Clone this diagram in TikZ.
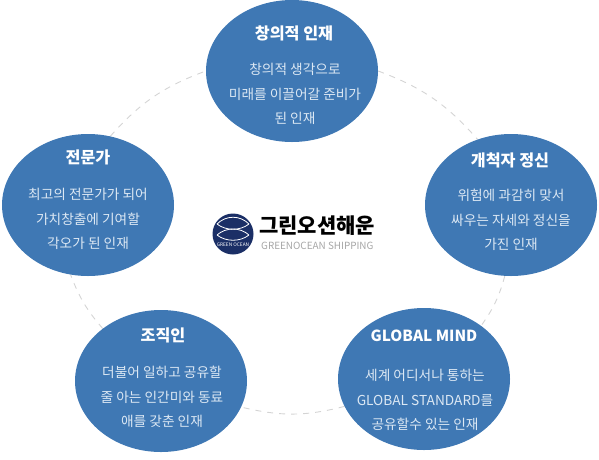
\documentclass[tikz,border=0pt]{standalone}
\usepackage{fontspec}
\setmainfont{Noto Sans CJK KR}
\usetikzlibrary{backgrounds, shapes.geometric}
\definecolor{oceanBlue}{HTML}{3F78B4}
\definecolor{oceanNavy}{HTML}{1B2F66}
\definecolor{ringGray}{HTML}{D4D4D4}
\definecolor{subText}{HTML}{DCE8F4}

\begin{document}
\begin{tikzpicture}[
    x=1pt, y=-1pt,
    talent/.style={ellipse, fill=oceanBlue, minimum width=172pt, minimum height=142pt,
                 inner sep=0pt},
    ring/.style={draw=ringGray, dash pattern=on 6pt off 6pt, line width=0.9pt},
    heading/.style={text=white, font=\fontsize{16.2}{18}\selectfont\bfseries, inner sep=0pt},
    bodytext/.style={text=subText, font=\fontsize{13.7}{24.6}\selectfont, align=center, inner sep=0pt},
    fish/.style={white, line width=0.8pt},
  ]
    \useasboundingbox (0,0) rectangle (599,459);

    \node[talent] (top) at (292,71) {};
    \node[talent] (right) at (511,205) {};
    \node[talent] (mind) at (424,379) {};
    \node[talent] (org) at (161,381) {};
    \node[talent] (left) at (88,205) {};

    \node[heading] (topname) at (294,33) {창의적 인재};
    \node[heading] (rightname) at (510,160) {개척자 정신};
    \node[heading, font=\fontsize{15.3}{18}\selectfont\bfseries] (mindname) at (424,336) {GLOBAL MIND};
    \node[heading] (orgname) at (163,335) {조직인};
    \node[heading] (leftname) at (88,157) {전문가};

    \node[bodytext] (topbody) at (295,94) {창의적 생각으로\\미래를 이끌어갈 준비가\\된 인재};
    \node[bodytext] (rightbody) at (511,220) {위험에 과감히 맞서\\싸우는 자세와 정신을\\가진 인재};
    \node[bodytext] (mindbody) at (425,400) {세계 어디서나 통하는\\GLOBAL STANDARD를\\공유할수 있는 인재};
    \node[bodytext] (orgbody) at (162,397) {더불어 일하고 공유할\\줄 아는 인간미와 동료\\애를 갖춘 인재};
    \node[bodytext] (leftbody) at (88,219) {최고의 전문가가 되어\\가치창출에 기여할\\각오가 된 인재};

    \begin{scope}[on background layer]
      \draw[ring] (top.0) to[bend left=14] (right.117);
      \draw[ring] (right.265) to[bend left=10] (mind.43);
      \draw[ring] (mind.199) to[bend left=14] (org.-18);
      \draw[ring] (org.138) to[bend left=10] (left.256);
      \draw[ring] (left.72) to[bend left=14] (top.180);
    \end{scope}

    % logo
    \node[circle, fill=oceanNavy, minimum size=41pt, inner sep=0pt] (mark) at (233,234) {};
    \draw[fish] (217,224) .. controls (226,215) and (240,215) .. (249,224);
    \draw[fish] (217,224) .. controls (226,231) and (240,231) .. (249,224);
    \draw[fish] (217,235) .. controls (226,227) and (240,227) .. (249,235);
    \draw[fish] (217,235) .. controls (226,242) and (240,242) .. (249,235);
    \node[text=white, font=\fontsize{4.8}{5}\selectfont, inner sep=0pt] (markname) at (233,245) {GREEN OCEAN};
    \node[anchor=west, text=black, font=\fontsize{21}{22}\selectfont\bfseries, inner sep=0pt] (brand) at (259,226) {그린오션해운};
    \node[anchor=west, text=black!35, font=\fontsize{9.9}{10}\selectfont, inner sep=0pt] (brandsub) at (261,245.5) {GREENOCEAN SHIPPING};
\end{tikzpicture}
\end{document}
